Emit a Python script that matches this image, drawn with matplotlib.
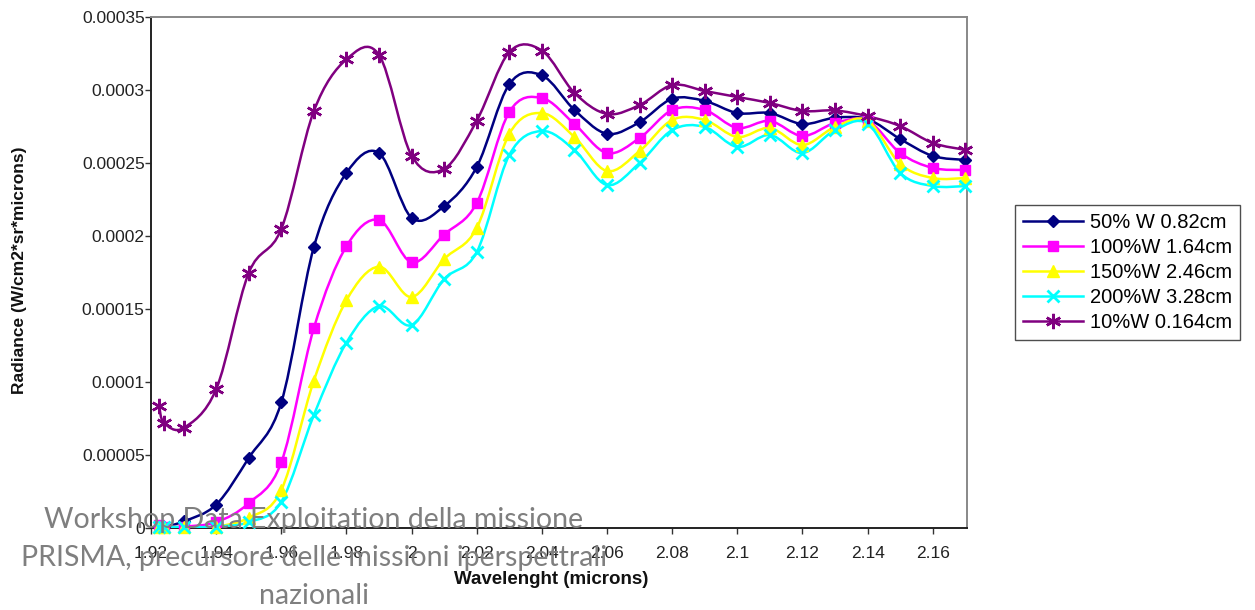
import matplotlib
matplotlib.use("Agg")
import matplotlib.pyplot as plt
from matplotlib.path import Path
from matplotlib.patches import PathPatch
from matplotlib.lines import Line2D
from matplotlib.ticker import FixedLocator, FixedFormatter

# ---------------- data ----------------
wavelength = [1.9225, 1.924, 1.93, 1.94, 1.95, 1.96, 1.97, 1.98, 1.99, 2.00,
              2.01, 2.02, 2.03, 2.04, 2.05, 2.06, 2.07, 2.08, 2.09, 2.10,
              2.11, 2.12, 2.13, 2.14, 2.15, 2.16, 2.17]

w50 = [1e-6, 1e-6, 4.5e-6, 1.6e-5, 4.8e-5, 8.6e-5, 1.925e-4, 2.432e-4, 2.568e-4, 2.125e-4,
       2.205e-4, 2.473e-4, 3.04e-4, 3.1e-4, 2.863e-4, 2.70e-4, 2.78e-4, 2.94e-4, 2.925e-4, 2.842e-4,
       2.842e-4, 2.767e-4, 2.81e-4, 2.80e-4, 2.664e-4, 2.548e-4, 2.521e-4]
w100 = [2e-6, 1e-6, 1e-6, 4e-6, 1.7e-5, 4.5e-5, 1.37e-4, 1.93e-4, 2.11e-4, 1.82e-4,
        2.01e-4, 2.226e-4, 2.85e-4, 2.945e-4, 2.767e-4, 2.568e-4, 2.671e-4, 2.863e-4, 2.863e-4, 2.74e-4,
        2.788e-4, 2.685e-4, 2.774e-4, 2.79e-4, 2.568e-4, 2.466e-4, 2.452e-4]
w150 = [1e-6, 1e-6, 0.5e-6, 1e-6, 7e-6, 2.6e-5, 1.01e-4, 1.56e-4, 1.79e-4, 1.582e-4,
        1.842e-4, 2.055e-4, 2.70e-4, 2.842e-4, 2.678e-4, 2.445e-4, 2.582e-4, 2.795e-4, 2.795e-4, 2.678e-4,
        2.74e-4, 2.623e-4, 2.747e-4, 2.79e-4, 2.493e-4, 2.397e-4, 2.397e-4]
w200 = [1e-6, 1e-6, 0.5e-6, 1e-6, 4e-6, 1.8e-5, 7.74e-5, 1.27e-4, 1.52e-4, 1.39e-4,
        1.705e-4, 1.89e-4, 2.555e-4, 2.719e-4, 2.589e-4, 2.349e-4, 2.50e-4, 2.726e-4, 2.747e-4, 2.61e-4,
        2.692e-4, 2.568e-4, 2.726e-4, 2.77e-4, 2.432e-4, 2.342e-4, 2.342e-4]
w10 = [8.35e-5, 7.2e-5, 6.85e-5, 9.5e-5, 1.747e-4, 2.048e-4, 2.856e-4, 3.21e-4, 3.24e-4, 2.55e-4,
       2.46e-4, 2.79e-4, 3.26e-4, 3.27e-4, 2.98e-4, 2.836e-4, 2.897e-4, 3.034e-4, 2.993e-4, 2.952e-4,
       2.911e-4, 2.856e-4, 2.86e-4, 2.82e-4, 2.753e-4, 2.637e-4, 2.59e-4]

series_labels = ["50% W 0.82cm", "100%W 1.64cm", "150%W 2.46cm", "200%W 3.28cm", "10%W 0.164cm"]

x_ticks = [1.92, 1.94, 1.96, 1.98, 2.00, 2.02, 2.04, 2.06, 2.08, 2.10, 2.12, 2.14, 2.16]
x_tick_labels = ["1.92", "1.94", "1.96", "1.98", "2", "2.02", "2.04", "2.06", "2.08",
                 "2.1", "2.12", "2.14", "2.16"]
y_ticks = [0, 0.00005, 0.0001, 0.00015, 0.0002, 0.00025, 0.0003, 0.00035]
y_tick_labels = ["0", "0.00005", "0.0001", "0.00015", "0.0002", "0.00025", "0.0003", "0.00035"]

overlay_text = "Workshop Data Exploitation della missione\nPRISMA, precursore delle missioni iperspettrali\nnazionali"

# ---------------- style ----------------
styles = [
    dict(color="#000080", marker="D", ms=6.5, mew=1.0),
    dict(color="#FF00FF", marker="s", ms=7.5, mew=1.0),
    dict(color="#FFFF00", marker="^", ms=8, mew=1.0),
    dict(color="#00FFFF", marker="x", ms=8, mew=2.0),
    dict(color="#800080", marker=(6, 2, 0), ms=11, mew=1.8),
]

plt.rcParams["font.family"] = ["Liberation Sans", "DejaVu Sans"]

W, H = 1255, 610
fig = plt.figure(figsize=(W / 100, H / 100), dpi=100)
ax = fig.add_axes([151 / W, (H - 528) / H, (967 - 151) / W, (528 - 17) / H])


def smooth_path(xs, ys):
    pts = list(zip(xs, ys))
    n = len(pts)
    verts = [pts[0]]
    codes = [Path.MOVETO]
    for i in range(n - 1):
        p0 = pts[i - 1] if i > 0 else pts[i]
        p1 = pts[i]
        p2 = pts[i + 1]
        p3 = pts[i + 2] if i + 2 < n else pts[i + 1]
        c1 = (p1[0] + (p2[0] - p0[0]) / 6.0, p1[1] + (p2[1] - p0[1]) / 6.0)
        c2 = (p2[0] - (p3[0] - p1[0]) / 6.0, p2[1] - (p3[1] - p1[1]) / 6.0)
        verts += [c1, c2, p2]
        codes += [Path.CURVE4, Path.CURVE4, Path.CURVE4]
    return Path(verts, codes)


all_series = [w50, w100, w150, w200, w10]
handles = []
for ys, st, lab in zip(all_series, styles, series_labels):
    patch = PathPatch(smooth_path(wavelength, ys), fill=False, edgecolor=st["color"],
                      lw=1.8, transform=ax.transData, zorder=3)
    ax.add_patch(patch)
    ax.plot(wavelength, ys, ls="none", marker=st["marker"], ms=st["ms"],
            mfc=st["color"], mec=st["color"], mew=st["mew"], zorder=4, clip_on=False)
    handles.append(Line2D([], [], color=st["color"], lw=1.8, marker=st["marker"],
                          ms=st["ms"], mfc=st["color"], mec=st["color"], mew=st["mew"]))

ax.set_xlim(1.92, 2.1705)
ax.set_ylim(0, 0.00035)

ax.xaxis.set_major_locator(FixedLocator(x_ticks))
ax.xaxis.set_major_formatter(FixedFormatter(x_tick_labels))
ax.yaxis.set_major_locator(FixedLocator(y_ticks))
ax.yaxis.set_major_formatter(FixedFormatter(y_tick_labels))
ax.tick_params(axis="both", direction="out", length=4, width=1, colors="#333333",
               labelsize=12.5, labelcolor="#222222")
ax.tick_params(axis="x", pad=9)
ax.tick_params(axis="y", pad=0.5)

for s in ["left", "bottom"]:
    ax.spines[s].set_color("#222222")
    ax.spines[s].set_linewidth(1.4)
for s in ["top", "right"]:
    ax.spines[s].set_color("#888888")
    ax.spines[s].set_linewidth(1.4)

fig.text(20 / W, 1 - 270 / H, "Radiance (W/cm2*sr*microns)", rotation=90,
         ha="center", va="center", fontsize=12.5, fontweight="bold", color="#111111")
fig.text(551 / W, 1 - 579 / H, "Wavelenght (microns)", ha="center", va="center",
         fontsize=13.5, fontweight="bold", color="#111111")

leg = fig.legend(handles, series_labels, loc="upper left",
                 bbox_to_anchor=(1015 / W, 1 - 205 / H), borderaxespad=0,
                 frameon=True, fancybox=False, edgecolor="#222222", fontsize=14.5,
                 handlelength=3.0, handletextpad=0.3, labelspacing=0.3,
                 borderpad=0.4)
leg.get_frame().set_linewidth(1.0)

fig.text(314 / W, 1 - 558 / H, overlay_text, ha="center", va="center",
         fontsize=20.5, color="#7f7f7f", family=["Lato", "DejaVu Sans"],
         linespacing=1.57, zorder=10)

fig.savefig("out.png", dpi=100)
